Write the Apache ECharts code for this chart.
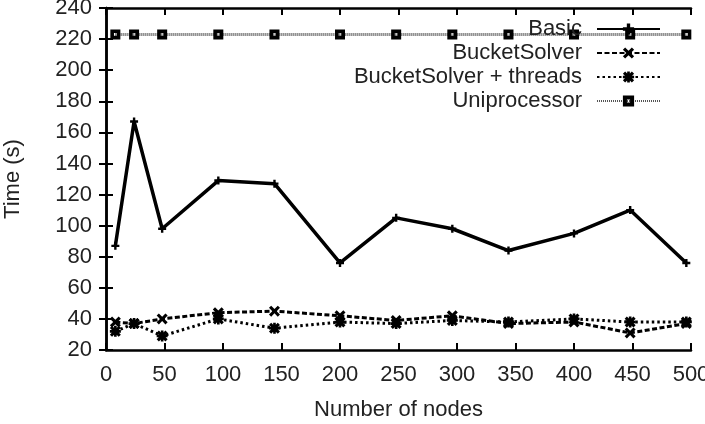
<!DOCTYPE html>
<html lang="en">
<head>
    <meta charset="UTF-8">
    <title>Time vs number of nodes</title>
    <script src="https://cdn.jsdelivr.net/npm/echarts@6/dist/echarts.min.js"></script>
    <style>
        html, body { margin: 0; padding: 0; background: #fff; }
        #chart { width: 705px; height: 424px; }
    </style>
</head>
<body>
    <div id="chart"></div>
    <script>
        var nodes = [8, 24, 48, 96, 144, 200, 248, 296, 344, 400, 448, 496];
        var basic = [87, 167, 98, 129, 127, 76, 105, 98, 84, 95, 110, 76];
        var bucketSolver = [38, 37, 40, 44, 45, 42, 39, 42, 37, 38, 31, 37];
        var bucketThreads = [32, 37, 29, 40, 34, 38, 37, 39, 38, 40, 38, 38];
        var uniprocessor = [223, 223, 223, 223, 223, 223, 223, 223, 223, 223, 223, 223];

        var font = 'Liberation Sans, Arial, sans-serif';
        var txt = '#222';
        var fs = 22;

        // gnuplot-like point types
        var plusPath = 'path://M3.5,0H6.5V3.5H10V6.5H6.5V10H3.5V6.5H0V3.5H3.5Z';
        var crossPath = 'path://M0,2L2,0L5,3L8,0L10,2L7,5L10,8L8,10L5,7L2,10L0,8L3,5Z';
        var starPath = 'path://M0,2L2,0L5,3L8,0L10,2L7,5L10,8L8,10L5,7L2,10L0,8L3,5Z M3.8,0H6.2V10H3.8Z M0,3.8H10V6.2H0Z';
        // heavy open square: outer box with a small hole
        var boxPath = 'path://M0,0H10V10H0Z M3.6,3.6V6.4H6.4V3.6Z';

        function pairs(ys) {
            return nodes.map(function (x, i) { return [x, ys[i]]; });
        }

        var chart = echarts.init(document.getElementById('chart'));

        var option = {
            animation: false,
            textStyle: { fontFamily: font },
            grid: { left: 106, right: 14, top: 8, bottom: 74, outerBoundsMode: 'none', containLabel: false },
            legend: {
                orient: 'vertical',
                right: 44,
                top: 18,
                padding: 0,
                align: 'right',
                itemWidth: 63,
                itemHeight: 14,
                itemGap: 2,
                textStyle: { fontFamily: font, fontSize: fs, color: txt, lineHeight: 21, padding: [0, 10, 0, 0] },
                data: ['Basic', 'BucketSolver', 'BucketSolver + threads', 'Uniprocessor']
            },
            xAxis: [{
                type: 'value',
                min: 0, max: 500, interval: 50,
                name: 'Number of nodes',
                nameLocation: 'middle',
                nameGap: 49,
                nameTextStyle: { fontFamily: font, fontSize: fs, color: txt },
                axisLine: { lineStyle: { color: '#000', width: 2.5 } },
                axisTick: { inside: true, length: 7, lineStyle: { color: '#000', width: 2 } },
                axisLabel: { fontFamily: font, fontSize: fs, color: txt, margin: 14 },
                splitLine: { show: false }
            }, {
                type: 'value',
                position: 'top',
                min: 0, max: 500, interval: 50,
                axisLine: { lineStyle: { color: '#000', width: 2.5 } },
                axisTick: { inside: true, length: 7, lineStyle: { color: '#000', width: 2 } },
                axisLabel: { show: false },
                splitLine: { show: false }
            }],
            yAxis: [{
                type: 'value',
                min: 20, max: 240, interval: 20,
                name: 'Time (s)',
                nameLocation: 'middle',
                nameGap: 82,
                nameTextStyle: { fontFamily: font, fontSize: fs, color: txt },
                axisLine: { show: true, lineStyle: { color: '#000', width: 2.5 } },
                axisTick: { show: true, inside: true, length: 7, lineStyle: { color: '#000', width: 2 } },
                axisLabel: { fontFamily: font, fontSize: fs, color: txt, margin: 14 },
                splitLine: { show: false }
            }, {
                type: 'value',
                position: 'right',
                min: 20, max: 240, interval: 20,
                axisLine: { show: true, lineStyle: { color: '#000', width: 2.5 } },
                axisTick: { show: true, inside: true, length: 7, lineStyle: { color: '#000', width: 2 } },
                axisLabel: { show: false },
                splitLine: { show: false }
            }],
            series: [
                {
                    name: 'Basic',
                    type: 'line',
                    data: pairs(basic),
                    symbol: plusPath,
                    symbolSize: 8,
                    itemStyle: { color: '#000' },
                    lineStyle: { color: '#000', width: 3.5, type: 'solid' }
                },
                {
                    name: 'BucketSolver',
                    type: 'line',
                    data: pairs(bucketSolver),
                    symbol: crossPath,
                    symbolSize: 11,
                    itemStyle: { color: '#000' },
                    lineStyle: { color: '#000', width: 3, type: [5, 2.5] }
                },
                {
                    name: 'BucketSolver + threads',
                    type: 'line',
                    data: pairs(bucketThreads),
                    symbol: starPath,
                    symbolSize: 11,
                    itemStyle: { color: '#000' },
                    lineStyle: { color: '#000', width: 3, type: [2.5, 3] }
                },
                {
                    name: 'Uniprocessor',
                    type: 'line',
                    data: pairs(uniprocessor),
                    symbol: boxPath,
                    symbolSize: 10,
                    itemStyle: { color: '#000' },
                    lineStyle: { color: '#555', width: 3, type: [1, 1] }
                }
            ]
        };

        chart.setOption(option);
    </script>
</body>
</html>
